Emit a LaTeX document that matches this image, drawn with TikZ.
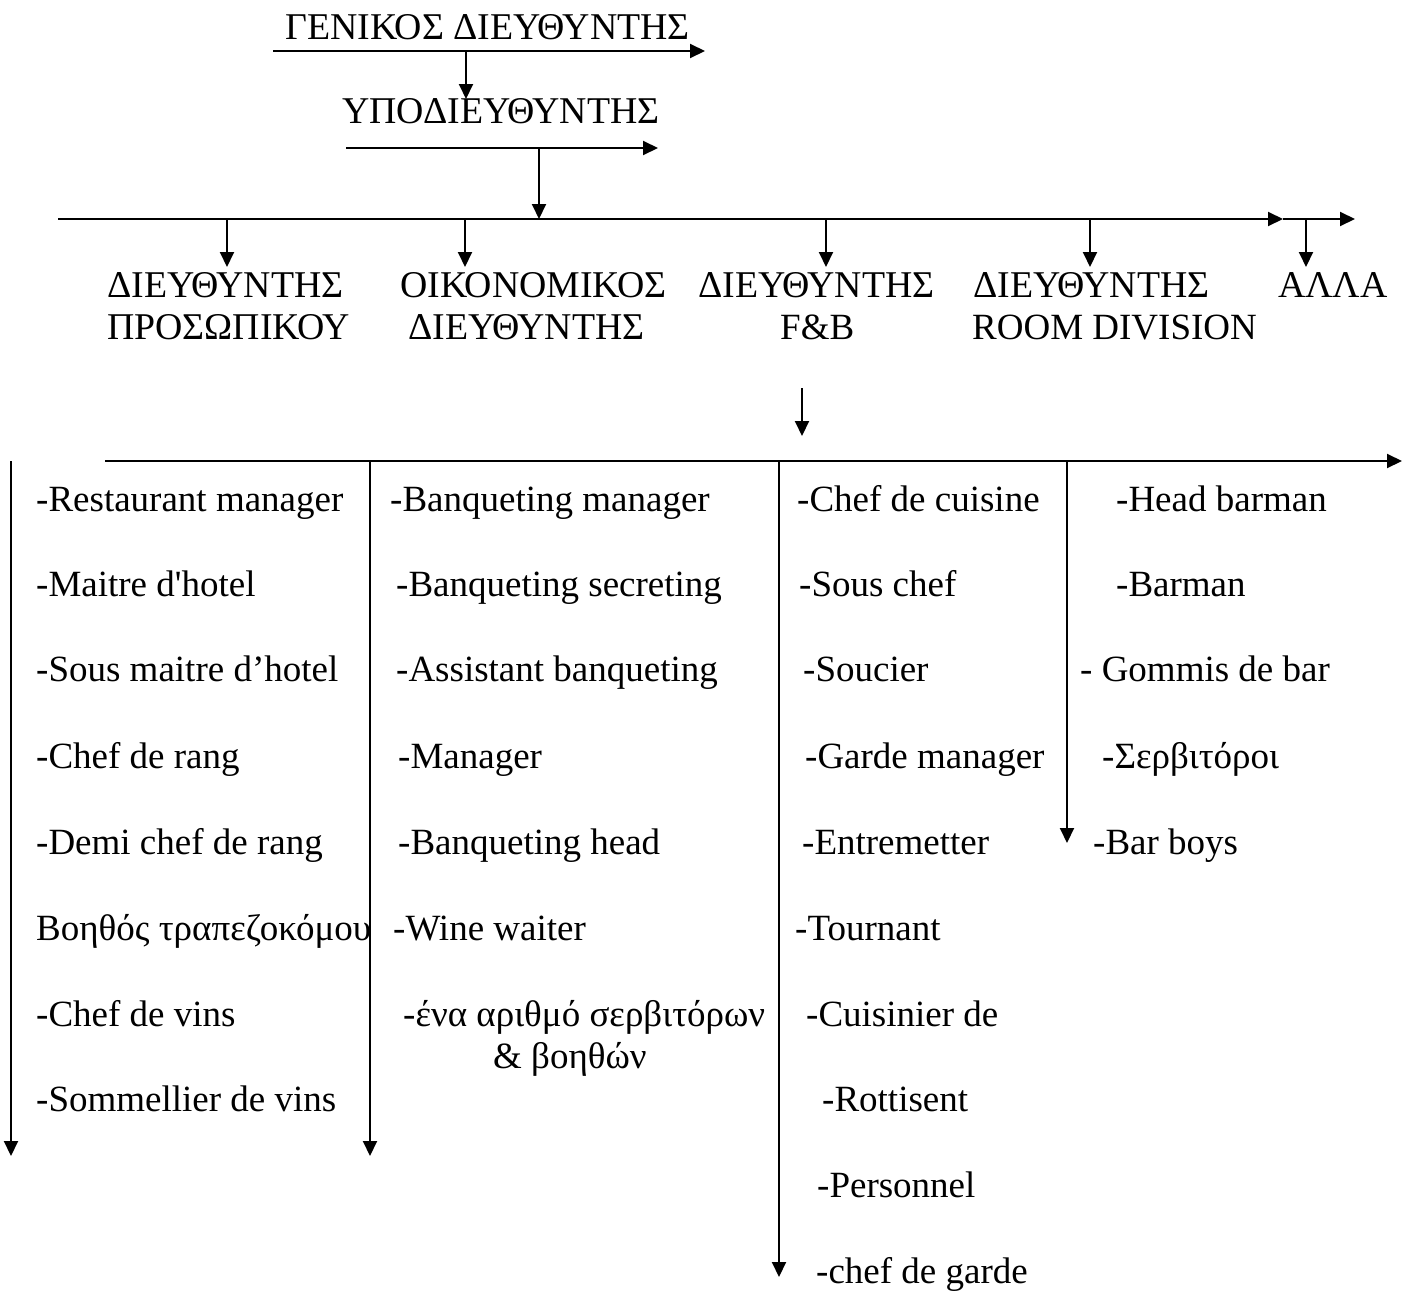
\documentclass[tikz,border=0pt]{standalone}
\usepackage{fontspec}
\setmainfont{Liberation Serif}
\newfontfamily\plainserif{Liberation Serif}[Ligatures=ResetAll]
\usetikzlibrary{arrows.meta}
\begin{document}
\begin{tikzpicture}[x=1pt,y=-1pt,
  txt/.style={inner sep=0pt,anchor=base west,font=\fontsize{37}{44}\selectfont},
  gtxt/.style={txt,font=\fontsize{37.8}{44}\selectfont},
  arr/.style={line width=2pt,-{Triangle[length=15pt,width=14pt]}}]
\useasboundingbox (0,0) rectangle (1409,1293);
% top level
\node[gtxt] (gd) at (285,39) {ΓΕΝΙΚΟΣ ΔΙΕΥΘΥΝΤΗΣ};
\coordinate (a1s) at (273,51); \coordinate (a1e) at (705,51);
\draw[arr] (a1s) -- (a1e);
\coordinate (a1d) at (466,51); \coordinate (a1t) at (466,99);
\draw[arr] (a1d) -- (a1t);
\node[gtxt] (yd) at (342,123) {ΥΠΟΔΙΕΥΘΥΝΤΗΣ};
\coordinate (a2s) at (346,148); \coordinate (a2e) at (658,148);
\draw[arr] (a2s) -- (a2e);
\coordinate (a2d) at (539,148); \coordinate (a2t) at (539,219);
\draw[arr] (a2d) -- (a2t);
% main line
\coordinate (m0) at (58,219); \coordinate (m1) at (1283,219); \coordinate (m2) at (1355,219);
\draw[arr] (m0) -- (m1);
\draw[arr] (m1) -- (m2);
\foreach \x/\n in {227/p,465/o,826/f,1090/r,1306/l}{
  \coordinate (d\n s) at (\x,219); \coordinate (d\n e) at (\x,267);
  \draw[arr] (d\n s) -- (d\n e);
}
% level 2
\node[gtxt] (p1) at (107,297) {ΔΙΕΥΘΥΝΤΗΣ};
\node[gtxt] (p2) at (107,339) {ΠΡΟΣΩΠΙΚΟΥ};
\node[gtxt] (o1) at (400,297) {ΟΙΚΟΝΟΜΙΚΟΣ};
\node[gtxt] (o2) at (408,339) {ΔΙΕΥΘΥΝΤΗΣ};
\node[gtxt] (f1) at (698,297) {ΔΙΕΥΘΥΝΤΗΣ};
\node[txt] (f2) at (780,339) {F\&B};
\node[gtxt] (r1) at (973,297) {ΔΙΕΥΘΥΝΤΗΣ};
\node[txt] (r2) at (972,339) {ROOM DIVISION};
\node[gtxt] (al) at (1278,297) {ΑΛΛΑ};
% F&B arrow
\coordinate (fbs) at (802,388); \coordinate (fbe) at (802,436);
\draw[arr] (fbs) -- (fbe);
% second level line
\coordinate (n0) at (105,461); \coordinate (n1) at (1402,461);
\draw[arr] (n0) -- (n1);
\coordinate (c1s) at (11,461); \coordinate (c1e) at (11,1156);
\draw[arr] (c1s) -- (c1e);
\coordinate (c2s) at (370,461); \coordinate (c2e) at (370,1156);
\draw[arr] (c2s) -- (c2e);
\coordinate (c3s) at (779,461); \coordinate (c3e) at (779,1277);
\draw[arr] (c3s) -- (c3e);
\coordinate (c4s) at (1067,461); \coordinate (c4e) at (1067,843);
\draw[arr] (c4s) -- (c4e);
% column 1
\node[txt] (a1) at (36,511) {-Restaurant manager};
\node[txt] (a2) at (36,596) {\plainserif -Maitre d'hotel};
\node[txt] (a3) at (36,681) {-Sous maitre d’hotel};
\node[txt] (a4) at (36,768) {-Chef de rang};
\node[txt] (a5) at (36,854) {-Demi chef de rang};
\node[txt] (a6) at (36,940) {Βοηθός τραπεζοκόμου};
\node[txt] (a7) at (36,1026) {-Chef de vins};
\node[txt] (a8) at (36,1111) {-Sommellier de vins};
% column 2
\node[txt] (b1) at (390,511) {-Banqueting manager};
\node[txt] (b2) at (396,596) {-Banqueting secreting};
\node[txt] (b3) at (396,681) {-Assistant banqueting};
\node[txt] (b4) at (398,768) {-Manager};
\node[txt] (b5) at (398,854) {-Banqueting head};
\node[txt] (b6) at (393,940) {-Wine waiter};
\node[txt] (b7) at (403,1026) {-ένα αριθμό σερβιτόρων};
\node[txt] (b8) at (493,1068) {\& βοηθών};
% column 3
\node[txt] (k1) at (797,511) {-Chef de cuisine};
\node[txt] (k2) at (799,596) {-Sous chef};
\node[txt] (k3) at (803,681) {-Soucier};
\node[txt] (k4) at (805,768) {-Garde manager};
\node[txt] (k5) at (802,854) {-Entremetter};
\node[txt] (k6) at (795,940) {-Tournant};
\node[txt] (k7) at (806,1026) {-Cuisinier de};
\node[txt] (k8) at (822,1111) {-Rottisent};
\node[txt] (k9) at (817,1197) {-Personnel};
\node[txt] (k10) at (816,1283) {-chef de garde};
% column 4
\node[txt] (h1) at (1116,511) {-Head barman};
\node[txt] (h2) at (1116,596) {-Barman};
\node[txt] (h3) at (1080,681) {- Gommis de bar};
\node[txt] (h4) at (1102,768) {-Σερβιτόροι};
\node[txt] (h5) at (1093,854) {-Bar boys};
\end{tikzpicture}
\end{document}
